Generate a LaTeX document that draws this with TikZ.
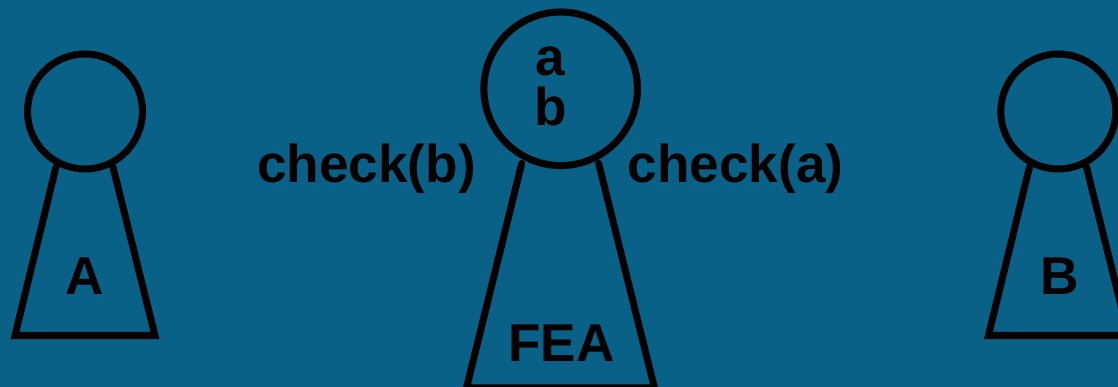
\documentclass[tikz,border=0pt]{standalone}
\usepackage{fontspec}
\setmainfont{Liberation Sans}
\usepackage{tikz}
\usepackage{tkz-euclide}
\definecolor{slateback}{HTML}{0A6187}
\tikzset{
    treelabel/.style={anchor=base, inner sep=0pt, font=\fontsize{30.3}{30.3}\selectfont\bfseries, text=black},
    treeline/.style={black, line width=4pt}
}

\begin{document}
\begin{tikzpicture}
            \tkzDefPoints{1.7/5.51/O_A, 2.85/5.51/R_A, 1.12/4.4/T_1, 2.26/4.4/T_2, 0.3/1.03/B_1, 3.1/1.03/B_2}
            \tkzDefPoints{11.214/5.964/O_F, 12.75/5.964/R_F, 10.434/4.47/T_3, 11.974/4.47/T_4, 9.33/-0.02/B_3, 13.09/-0.02/B_4}
            \tkzDefPoints{21.166/5.51/O_B, 22.316/5.51/R_B, 20.59/4.4/T_5, 21.73/4.4/T_6, 19.77/1.03/B_5, 22.57/1.03/B_6}
            \fill[slateback] (0,0) rectangle (22.36,7.74);
            \clip (0,0) rectangle (22.36,7.74);
            \tkzDrawCircle[treeline](O_A,R_A)
            \tkzDrawCircle[treeline](O_F,R_F)
            \tkzDrawCircle[treeline](O_B,R_B)
            \tkzDrawPolySeg[treeline](T_1,B_1,B_2,T_2)
            \tkzDrawPolySeg[treeline](T_3,B_3,B_4,T_4)
            \tkzDrawPolySeg[treeline](T_5,B_5,B_6,T_6)
            \node[treelabel] (labelA) at (1.7,1.85) {A};
            \node[treelabel] (labelB) at (21.19,1.85) {B};
            \node[treelabel] (labelF) at (11.23,0.5) {FEA};
            \node[treelabel] (keyA) at (11,6.22) {a};
            \node[treelabel] (keyB) at (11.02,5.22) {b};
            \node[treelabel] (checkB) at (7.33,4.08) {check(b)};
            \node[treelabel] (checkA) at (14.71,4.08) {check(a)};
        \end{tikzpicture}
\end{document}
